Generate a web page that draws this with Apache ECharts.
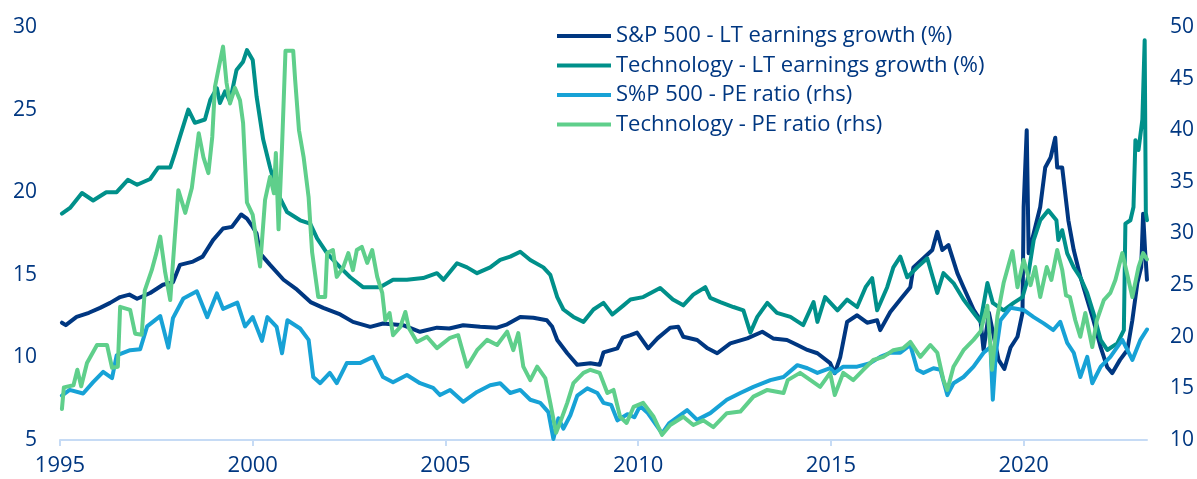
<!DOCTYPE html>
<html>
<head>
<meta charset="utf-8">
<script src="https://cdn.jsdelivr.net/npm/echarts@6/dist/echarts.min.js"></script>
<style>
  html, body { margin: 0; padding: 0; background: #fff; }
  #chart { width: 1197px; height: 479px; }
</style>
</head>
<body>
<div id="chart"></div>
<script>
// [decimal year, value]
const spEarn = [[1995.05,12.1],[1995.15,11.95],[1995.43,12.45],[1995.75,12.7],[1996.04,13.0],[1996.3,13.3],[1996.56,13.65],[1996.8,13.8],[1997.0,13.55],[1997.34,13.9],[1997.67,14.4],[1997.93,14.55],[1998.11,15.6],[1998.45,15.8],[1998.7,16.1],[1998.97,17.1],[1999.23,17.8],[1999.46,17.9],[1999.7,18.65],[1999.85,18.4],[2000.0,17.9],[2000.1,17.5],[2000.19,16.3],[2000.45,15.6],[2000.8,14.7],[2001.15,14.1],[2001.5,13.35],[2001.83,13.0],[2002.27,12.6],[2002.6,12.15],[2003.05,11.85],[2003.38,12.05],[2003.9,11.95],[2004.34,11.55],[2004.78,11.8],[2005.1,11.75],[2005.46,11.95],[2005.9,11.85],[2006.34,11.8],[2006.6,12.0],[2006.94,12.45],[2007.28,12.4],[2007.63,12.25],[2007.77,11.85],[2007.9,11.05],[2008.16,10.25],[2008.42,9.55],[2008.76,9.65],[2009.0,9.55],[2009.1,10.3],[2009.46,10.55],[2009.6,11.2],[2009.8,11.35],[2009.97,11.5],[2010.26,10.55],[2010.5,11.15],[2010.83,11.8],[2011.04,11.85],[2011.17,11.25],[2011.53,11.05],[2011.8,10.55],[2012.05,10.25],[2012.39,10.85],[2012.83,11.15],[2013.22,11.55],[2013.5,11.15],[2013.86,11.05],[2014.13,10.75],[2014.39,10.45],[2014.65,10.25],[2014.98,9.65],[2015.1,9.05],[2015.24,10.0],[2015.42,12.15],[2015.68,12.55],[2015.94,12.1],[2016.2,12.25],[2016.28,11.65],[2016.54,12.75],[2016.8,13.5],[2017.06,14.25],[2017.14,15.45],[2017.4,16.0],[2017.63,16.5],[2017.76,17.6],[2017.89,16.5],[2018.05,16.8],[2018.28,15.1],[2018.44,14.25],[2018.7,12.9],[2018.88,12.25],[2018.96,10.45],[2019.1,12.7],[2019.35,9.85],[2019.5,9.3],[2019.66,10.6],[2019.84,11.25],[2019.97,12.7],[2020.0,19.1],[2020.08,23.75],[2020.13,16.3],[2020.26,17.5],[2020.43,19.1],[2020.56,21.5],[2020.7,22.1],[2020.82,23.3],[2020.87,21.5],[2021.0,21.5],[2021.16,18.3],[2021.3,16.5],[2021.47,14.9],[2021.65,13.5],[2021.81,12.25],[2022.0,10.6],[2022.17,9.4],[2022.3,9.05],[2022.5,9.85],[2022.69,10.45],[2022.82,12.25],[2022.95,14.5],[2023.05,15.45],[2023.1,18.7],[2023.15,16.5],[2023.2,14.7]];

const techEarn = [[1995.05,18.7],[1995.26,19.05],[1995.57,19.95],[1995.86,19.5],[1996.2,20.0],[1996.47,20.0],[1996.76,20.75],[1997.0,20.45],[1997.34,20.8],[1997.55,21.5],[1997.86,21.5],[1997.98,22.35],[1998.11,23.35],[1998.33,25.0],[1998.5,24.2],[1998.76,24.4],[1998.9,25.6],[1999.07,26.3],[1999.15,25.4],[1999.28,26.1],[1999.41,25.5],[1999.58,27.4],[1999.75,27.9],[1999.85,28.6],[2000.0,28.0],[2000.1,25.8],[2000.27,23.2],[2000.45,21.5],[2000.63,20.0],[2000.89,18.8],[2001.23,18.3],[2001.49,18.1],[2001.67,17.2],[2001.93,16.3],[2002.27,15.45],[2002.53,14.85],[2002.86,14.25],[2003.3,14.25],[2003.64,14.7],[2004.0,14.7],[2004.42,14.8],[2004.78,15.1],[2004.95,14.7],[2005.3,15.7],[2005.56,15.45],[2005.82,15.1],[2006.16,15.45],[2006.42,15.9],[2006.68,16.1],[2006.94,16.4],[2007.2,15.9],[2007.54,15.45],[2007.72,15.0],[2007.9,13.65],[2008.06,12.9],[2008.32,12.45],[2008.58,12.15],[2008.84,12.9],[2009.1,13.3],[2009.33,12.6],[2009.62,13.15],[2009.8,13.5],[2010.13,13.65],[2010.57,14.2],[2010.9,13.5],[2011.17,13.15],[2011.43,13.8],[2011.74,14.25],[2011.87,13.6],[2012.13,13.35],[2012.47,13.05],[2012.73,12.85],[2012.91,11.5],[2013.09,12.45],[2013.35,13.3],[2013.6,12.7],[2013.95,12.45],[2014.28,11.95],[2014.55,13.35],[2014.65,12.15],[2014.85,13.65],[2015.17,12.85],[2015.42,13.5],[2015.68,13.05],[2015.9,14.25],[2016.07,14.8],[2016.2,12.85],[2016.46,14.25],[2016.62,15.45],[2016.8,16.1],[2016.98,14.85],[2017.24,15.45],[2017.5,16.0],[2017.76,13.9],[2017.92,15.1],[2018.18,14.5],[2018.44,13.5],[2018.7,12.7],[2018.88,12.15],[2019.06,14.5],[2019.2,13.3],[2019.48,12.85],[2019.74,13.3],[2019.97,13.65],[2020.1,14.7],[2020.26,17.1],[2020.43,18.3],[2020.64,18.9],[2020.85,18.3],[2020.9,17.1],[2021.0,17.7],[2021.13,16.3],[2021.3,15.45],[2021.47,14.85],[2021.65,13.9],[2021.81,12.7],[2022.0,11.05],[2022.17,10.45],[2022.43,10.85],[2022.6,11.65],[2022.64,18.1],[2022.77,18.3],[2022.85,19.1],[2022.9,23.15],[2022.98,22.55],[2023.08,24.4],[2023.14,29.2],[2023.17,18.75],[2023.2,18.3]];

const spPE = [[1995.05,14.3],[1995.25,14.85],[1995.6,14.5],[1995.86,15.6],[1996.12,16.6],[1996.35,16.0],[1996.47,18.2],[1996.82,18.7],[1997.08,18.8],[1997.26,21.0],[1997.6,22.0],[1997.81,18.95],[1997.93,21.8],[1998.2,23.7],[1998.55,24.4],[1998.82,21.9],[1999.07,24.2],[1999.23,22.7],[1999.6,23.3],[1999.8,21.0],[2000.0,21.9],[2000.24,19.6],[2000.38,21.9],[2000.62,20.95],[2000.76,18.4],[2000.9,21.6],[2001.23,20.8],[2001.45,19.7],[2001.57,16.1],[2001.75,15.5],[2002.0,16.5],[2002.18,15.5],[2002.44,17.45],[2002.78,17.45],[2003.12,18.05],[2003.38,16.1],[2003.64,15.6],[2004.0,16.3],[2004.34,15.5],[2004.68,15.05],[2004.86,14.35],[2005.12,14.85],[2005.46,13.7],[2005.82,14.65],[2006.16,15.3],[2006.42,15.5],[2006.68,14.55],[2006.94,14.85],[2007.2,13.9],[2007.46,13.6],[2007.67,12.7],[2007.8,10.1],[2007.93,12.1],[2008.06,11.1],[2008.24,12.4],[2008.42,14.3],[2008.68,15.0],[2008.94,14.55],[2009.1,13.6],[2009.3,13.4],[2009.46,11.9],[2009.72,12.5],[2009.9,12.2],[2010.05,13.3],[2010.25,12.6],[2010.62,10.65],[2010.8,11.6],[2011.27,12.9],[2011.53,11.95],[2011.87,12.6],[2012.3,13.9],[2012.65,14.55],[2012.99,15.15],[2013.43,15.8],[2013.77,16.1],[2014.13,17.25],[2014.39,16.95],[2014.65,16.5],[2014.98,16.95],[2015.1,16.5],[2015.32,17.1],[2015.68,17.1],[2016.02,17.45],[2016.28,18.05],[2016.54,18.45],[2016.8,18.45],[2017.06,19.2],[2017.24,16.8],[2017.4,16.5],[2017.66,16.95],[2017.84,16.8],[2018.02,14.35],[2018.18,15.5],[2018.44,16.1],[2018.7,17.1],[2018.96,18.45],[2019.14,19.0],[2019.2,13.9],[2019.28,18.45],[2019.4,21.6],[2019.66,22.8],[2020.0,22.6],[2020.26,21.9],[2020.52,21.3],[2020.77,20.65],[2020.95,21.45],[2021.13,19.4],[2021.3,18.45],[2021.47,16.1],[2021.65,18.05],[2021.78,15.5],[2022.0,17.1],[2022.25,18.05],[2022.56,19.7],[2022.82,17.75],[2023.03,19.7],[2023.2,20.7]];

const techPE = [[1995.05,13.0],[1995.1,15.1],[1995.35,15.3],[1995.45,16.8],[1995.55,15.2],[1995.7,17.45],[1995.96,19.2],[1996.22,19.2],[1996.35,17.0],[1996.5,17.1],[1996.56,22.9],[1996.82,22.6],[1996.95,20.3],[1997.12,20.2],[1997.2,24.5],[1997.38,26.45],[1997.5,28.1],[1997.6,29.7],[1997.73,26.2],[1997.86,23.55],[1997.98,29.7],[1998.07,34.2],[1998.25,32.0],[1998.42,34.4],[1998.6,39.7],[1998.72,37.4],[1998.85,35.85],[1998.95,39.35],[1999.02,44.2],[1999.12,46.1],[1999.23,48.1],[1999.32,44.6],[1999.41,42.6],[1999.54,44.1],[1999.67,42.9],[1999.75,40.7],[1999.85,33.0],[2000.0,31.8],[2000.19,26.8],[2000.32,33.25],[2000.45,35.5],[2000.55,33.9],[2000.6,37.8],[2000.67,30.4],[2000.76,38.4],[2000.85,47.7],[2001.05,47.7],[2001.1,44.9],[2001.2,40.0],[2001.32,37.4],[2001.45,33.5],[2001.54,28.2],[2001.7,23.85],[2001.88,23.85],[2001.93,28.1],[2002.08,28.4],[2002.18,25.8],[2002.35,26.75],[2002.48,28.1],[2002.6,26.45],[2002.7,28.4],[2002.83,28.7],[2002.97,27.15],[2003.1,28.4],[2003.23,25.8],[2003.36,24.25],[2003.44,21.6],[2003.55,22.3],[2003.64,20.15],[2003.83,20.95],[2003.96,22.4],[2004.05,20.85],[2004.26,19.5],[2004.52,20.0],[2004.78,18.9],[2005.12,19.9],[2005.33,20.15],[2005.56,17.1],[2005.82,18.7],[2006.08,19.7],[2006.34,19.2],[2006.6,20.5],[2006.76,18.7],[2006.89,20.35],[2007.02,17.1],[2007.2,15.8],[2007.38,17.1],[2007.59,16.0],[2007.72,13.6],[2007.87,10.7],[2008.0,11.95],[2008.16,13.6],[2008.32,15.5],[2008.58,16.5],[2008.76,16.8],[2009.0,16.5],[2009.2,14.55],[2009.36,14.85],[2009.53,12.25],[2009.7,11.65],[2009.88,13.2],[2010.13,13.6],[2010.4,12.25],[2010.62,10.5],[2010.83,11.45],[2011.17,12.25],[2011.43,11.45],[2011.69,11.9],[2011.95,11.25],[2012.3,12.6],[2012.65,12.75],[2012.99,14.2],[2013.35,14.85],[2013.77,14.55],[2013.88,15.8],[2014.2,16.5],[2014.47,15.8],[2014.72,15.15],[2014.98,16.5],[2015.1,14.35],[2015.32,16.5],[2015.58,15.8],[2015.84,16.8],[2016.1,17.75],[2016.36,18.05],[2016.62,18.7],[2016.88,18.9],[2017.06,19.5],[2017.32,18.05],[2017.58,19.2],[2017.76,18.45],[2017.92,15.8],[2018.02,14.85],[2018.18,17.1],[2018.44,18.7],[2018.7,19.7],[2018.88,20.5],[2019.06,23.0],[2019.18,16.8],[2019.32,22.0],[2019.48,25.2],[2019.71,28.3],[2019.84,24.8],[2020.0,27.45],[2020.18,25.0],[2020.3,26.75],[2020.43,23.85],[2020.6,26.75],[2020.72,25.5],[2020.87,28.4],[2021.0,26.5],[2021.1,24.0],[2021.2,23.85],[2021.34,21.6],[2021.47,20.0],[2021.6,22.3],[2021.78,19.0],[2021.9,21.6],[2022.08,23.55],[2022.25,24.25],[2022.38,25.5],[2022.56,28.1],[2022.69,26.0],[2022.82,23.85],[2022.98,26.75],[2023.1,28.1],[2023.2,27.5]];

const yearTicks = [1995, 2000, 2005, 2010, 2015, 2020];
const seriesNames = [
  'S&P 500 - LT earnings growth (%)',
  'Technology - LT earnings growth (%)',
  'S%P 500 - PE ratio (rhs)',
  'Technology - PE ratio (rhs)'
];
const colors = ['#003781', '#00908a', '#17a2d6', '#5fcf8b'];

const textColor = '#003781';
const font = '"Open Sans", sans-serif';

const chart = echarts.init(document.getElementById('chart'), null, { renderer: 'canvas' });

function line(name, data, yIdx, color) {
  return {
    name: name,
    type: 'line',
    yAxisIndex: yIdx,
    data: data,
    symbol: 'none',
    color: color,
    lineStyle: { width: 4, color: color, cap: 'round', join: 'round' },
    animation: false
  };
}

chart.setOption({
  animation: false,
  grid: { left: 60, right: 50, top: 27, bottom: 39 },
  legend: {
    orient: 'vertical',
    left: 552,
    top: 20,
    itemWidth: 54,
    itemHeight: 14,
    itemGap: 7.5,
    icon: 'path://M0,0 L54,0 L54,4 L0,4 Z',
    textStyle: { color: textColor, fontSize: 22, fontFamily: font, lineHeight: 22, padding: [0, 0, 0, 0] },
    data: seriesNames
  },
  xAxis: {
    type: 'value',
    min: 1995,
    max: 2023.2,
    interval: 5,
    splitLine: { show: false },
    axisLine: { show: true, lineStyle: { color: '#c6dbf5', width: 2 } },
    axisTick: { show: true, length: 6, lineStyle: { color: '#c6dbf5', width: 2 }, customValues: yearTicks },
    axisLabel: {
      color: textColor, fontSize: 22, fontFamily: font, margin: 15,
      customValues: yearTicks,
      formatter: v => String(v)
    }
  },
  yAxis: [
    {
      type: 'value', min: 5, max: 30, interval: 5,
      splitLine: { show: false },
      axisLine: { show: false }, axisTick: { show: false },
      axisLabel: { color: textColor, fontSize: 21, fontFamily: font, margin: 23 }
    },
    {
      type: 'value', min: 10, max: 50, interval: 5,
      splitLine: { show: false },
      axisLine: { show: false }, axisTick: { show: false },
      axisLabel: { color: textColor, fontSize: 21, fontFamily: font, margin: 23 }
    }
  ],
  series: [
    line(seriesNames[0], spEarn, 0, colors[0]),
    line(seriesNames[1], techEarn, 0, colors[1]),
    line(seriesNames[2], spPE, 1, colors[2]),
    line(seriesNames[3], techPE, 1, colors[3])
  ]
});
</script>
</body>
</html>
